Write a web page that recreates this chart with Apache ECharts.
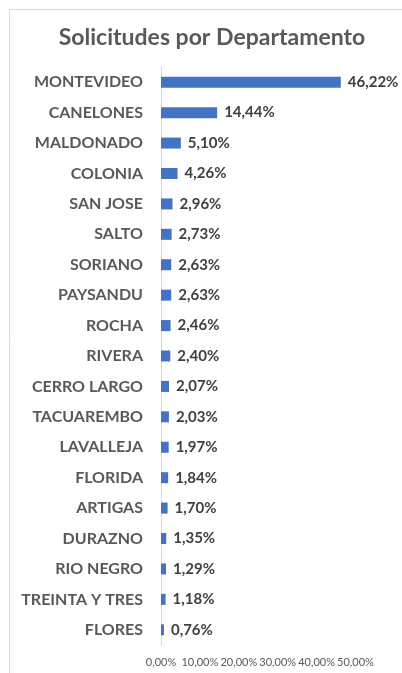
<!DOCTYPE html>
<html>
<head>
<meta charset="utf-8">
<script src="https://cdn.jsdelivr.net/npm/echarts@6/dist/echarts.min.js"></script>
<style>
  html, body { margin: 0; padding: 0; background: #fff; }
  #chart { width: 402px; height: 673px; }
</style>
</head>
<body>
<div id="chart"></div>
<script>
// datos
const departamentos = [
  "MONTEVIDEO", "CANELONES", "MALDONADO", "COLONIA", "SAN JOSE", "SALTO",
  "SORIANO", "PAYSANDU", "ROCHA", "RIVERA", "CERRO LARGO", "TACUAREMBO",
  "LAVALLEJA", "FLORIDA", "ARTIGAS", "DURAZNO", "RIO NEGRO", "TREINTA Y TRES", "FLORES"
];
const porcentajes = [
  46.22, 14.44, 5.10, 4.26, 2.96, 2.73, 2.63, 2.63, 2.46, 2.40,
  2.07, 2.03, 1.97, 1.84, 1.70, 1.35, 1.29, 1.18, 0.76
];
const ejeX = { min: 0, max: 50, interval: 10 };

const fmt = v => v.toFixed(2).replace(".", ",") + "%";
const fuente = "Lato, 'Open Sans', sans-serif";

const chart = echarts.init(document.getElementById("chart"));

chart.setOption({
  backgroundColor: "#fff",
  animation: false,
  title: {
    text: "Solicitudes por Departamento",
    left: 207,
    textAlign: "center",
    top: 21,
    textStyle: { color: "#595959", fontSize: 23, fontWeight: "bold", fontFamily: fuente }
  },
  // marco del área del gráfico (se sale por derecha y abajo)
  graphic: [{
    type: "rect",
    shape: { x: 9.5, y: 9.5, width: 420, height: 700 },
    style: { fill: "none", stroke: "#d9d9d9", lineWidth: 1 },
    silent: true,
    z: -1
  }],
  grid: { left: 161, top: 67, width: 194.5, height: 578 },
  xAxis: {
    type: "value",
    min: ejeX.min,
    max: ejeX.max,
    interval: ejeX.interval,
    axisLine: { show: false },
    axisTick: { show: false },
    splitLine: { show: false },
    axisLabel: {
      color: "#595959",
      fontSize: 11,
      fontFamily: fuente,
      margin: 12,
      formatter: fmt
    }
  },
  yAxis: {
    type: "category",
    inverse: true,
    data: departamentos,
    axisLine: { show: true, lineStyle: { color: "#d9d9d9" } },
    axisTick: { show: false },
    axisLabel: {
      color: "#595959",
      fontSize: 16,
      fontWeight: "bold",
      fontFamily: fuente,
      margin: 18
    }
  },
  series: [{
    type: "bar",
    data: porcentajes,
    barWidth: 11,
    itemStyle: { color: "#4472c4" },
    label: {
      show: true,
      position: "right",
      distance: 7,
      color: "#404040",
      fontSize: 15,
      fontWeight: "bold",
      fontFamily: fuente,
      formatter: p => fmt(p.value)
    }
  }]
});
</script>
</body>
</html>
